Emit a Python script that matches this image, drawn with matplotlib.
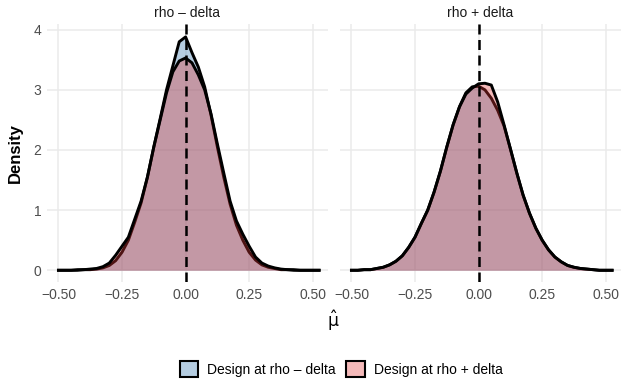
"""
Density of mu-hat under two designs, faceted by rho - delta / rho + delta.
"""

import matplotlib
matplotlib.use('Agg')
import matplotlib.pyplot as plt
from matplotlib.colors import to_rgba
from matplotlib.patches import Patch


# ── Data ───────────────────────────────────────────────────────────────────

mu_grid = [-0.500, -0.475, -0.450, -0.425, -0.400, -0.375, -0.350, -0.325,
           -0.300, -0.275, -0.250, -0.225, -0.200, -0.175, -0.150, -0.125,
           -0.100, -0.075, -0.050, -0.025, 0.000, 0.025, 0.050, 0.075,
           0.100, 0.125, 0.150, 0.175, 0.200, 0.225, 0.250, 0.275,
           0.300, 0.325, 0.350, 0.375, 0.400, 0.425, 0.450, 0.475,
           0.500, 0.525]

panels = ['rho \u2013 delta', 'rho + delta']
designs = ['Design at rho \u2013 delta', 'Design at rho + delta']

# panel "rho - delta"
dens_minus_design_minus = [0.00, 0.00, 0.00, 0.00, 0.01, 0.01, 0.02, 0.04,
                           0.08, 0.16, 0.30, 0.50, 0.80, 1.12, 1.55, 2.05,
                           2.52, 3.00, 3.40, 3.80, 3.88, 3.62, 3.38, 3.05,
                           2.58, 2.05, 1.55, 1.10, 0.75, 0.50, 0.30, 0.17,
                           0.09, 0.05, 0.03, 0.01, 0.01, 0.00, 0.00, 0.00,
                           0.00, 0.00]
dens_minus_design_plus = [0.00, 0.00, 0.00, 0.01, 0.01, 0.02, 0.03, 0.06,
                          0.12, 0.25, 0.40, 0.55, 0.85, 1.15, 1.55, 2.05,
                          2.50, 2.95, 3.30, 3.48, 3.53, 3.45, 3.25, 3.00,
                          2.60, 2.10, 1.62, 1.15, 0.82, 0.60, 0.40, 0.22,
                          0.12, 0.07, 0.04, 0.02, 0.01, 0.01, 0.00, 0.00,
                          0.00, 0.00]

# panel "rho + delta"
dens_plus_design_minus = [0.00, 0.00, 0.01, 0.01, 0.03, 0.05, 0.09, 0.15,
                          0.24, 0.38, 0.55, 0.78, 1.00, 1.30, 1.65, 2.05,
                          2.42, 2.72, 2.95, 3.05, 3.06, 3.00, 2.86, 2.66,
                          2.40, 2.02, 1.62, 1.25, 0.95, 0.70, 0.50, 0.34,
                          0.22, 0.14, 0.08, 0.05, 0.03, 0.02, 0.01, 0.00,
                          0.00, 0.00]
dens_plus_design_plus = [0.00, 0.00, 0.01, 0.01, 0.03, 0.05, 0.09, 0.15,
                         0.24, 0.38, 0.55, 0.78, 1.00, 1.30, 1.65, 2.05,
                         2.42, 2.72, 2.93, 3.03, 3.10, 3.11, 3.08, 2.80,
                         2.42, 2.02, 1.62, 1.25, 0.95, 0.70, 0.50, 0.34,
                         0.22, 0.14, 0.08, 0.05, 0.03, 0.02, 0.01, 0.00,
                         0.00, 0.00]

x_ticks = [-0.50, -0.25, 0.00, 0.25, 0.50]
x_ticklabels = ['\u22120.50', '\u22120.25', '0.00', '0.25', '0.50']
y_ticks = [0, 1, 2, 3, 4]

panel_data = [
    (dens_minus_design_minus, dens_minus_design_plus),
    (dens_plus_design_minus, dens_plus_design_plus),
]


# ── Style ──────────────────────────────────────────────────────────────────

plt.rcParams['font.family'] = ['Liberation Sans', 'DejaVu Sans']
colors = ['#4682B4', '#E03737']
alphas = [0.40, 0.35]
grid_c = '#EBEBEB'
text_c = '#4D4D4D'

fig = plt.figure(figsize=(6.24, 3.79), dpi=100)

W, H = 624.0, 379.0
panel_left = [47, 340]
panel_w = 281
panel_top, panel_bot = 24, 282

for i, (title, (d_minus, d_plus)) in enumerate(zip(panels, panel_data)):
    ax = fig.add_axes([panel_left[i] / W, 1 - panel_bot / H,
                       panel_w / W, (panel_bot - panel_top) / H])

    for j, dens in enumerate([d_minus, d_plus]):
        ax.fill_between(mu_grid, 0, dens, color=colors[j], alpha=alphas[j],
                        lw=0, zorder=2 + 2 * j)
        ax.plot(mu_grid, dens, color='black', lw=2.1, zorder=3 + 2 * j,
                solid_joinstyle='round')

    ax.axvline(0, color='black', lw=1.8, ls=(0, (4, 2.2)), zorder=8)

    ax.set_xlim(-0.545, 0.56)
    ax.set_ylim(-0.195, 4.095)
    ax.set_xticks(x_ticks)
    ax.set_xticklabels(x_ticklabels)
    ax.set_yticks(y_ticks)
    if i > 0:
        ax.set_yticklabels([])
    ax.tick_params(length=0, labelsize=10, colors=text_c, pad=4)
    ax.grid(color=grid_c, lw=1.1, zorder=0)
    ax.set_axisbelow(True)
    for s in ax.spines.values():
        s.set_visible(False)
    ax.set_title(title, fontsize=10, color='#1A1A1A', pad=5)

fig.text(15 / W, 1 - 153 / H, 'Density', rotation=90, fontsize=12,
         fontweight='bold', ha='center', va='center')
fig.text(333 / W, 1 - 321 / H, r'$\hat{\mathrm{\mu}}$', fontsize=12.5,
         ha='center', va='center')

handles = [Patch(facecolor=to_rgba(c, a), edgecolor='black', lw=1.5)
           for c, a in zip(colors, alphas)]
fig.legend(handles, designs, loc='center',
           bbox_to_anchor=(341 / W, 1 - 369 / H),
           ncol=2, frameon=False, fontsize=10, handlelength=1.35,
           handleheight=1.35, handletextpad=0.6, columnspacing=0.8)

plt.savefig('out.png', dpi=100)
plt.close()
